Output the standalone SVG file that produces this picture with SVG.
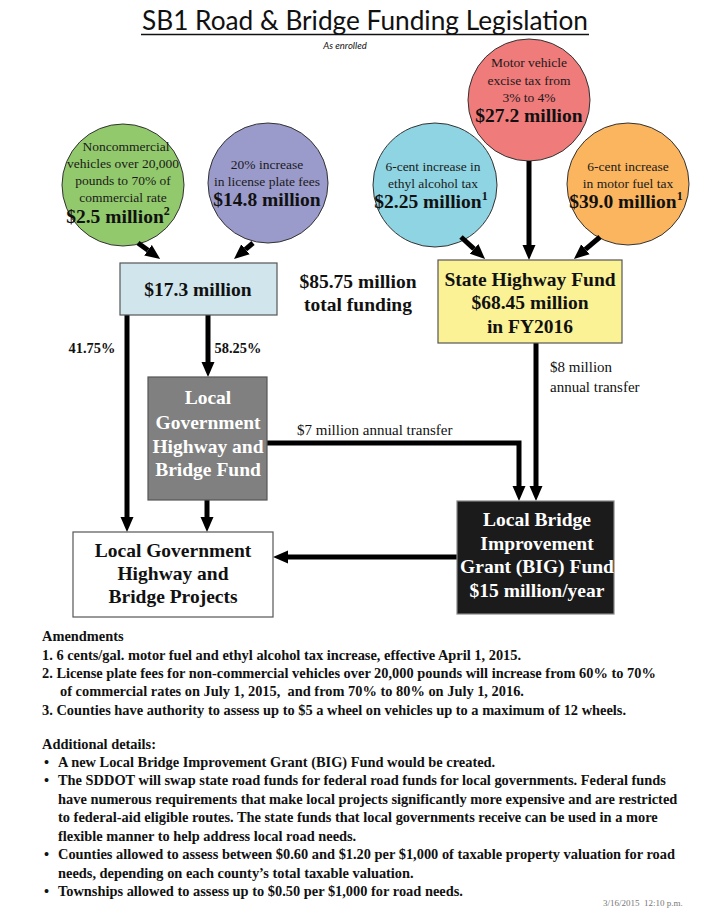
<svg xmlns="http://www.w3.org/2000/svg" width="725" height="914" viewBox="0 0 725 914">
<style>
.ct{font-family:"Liberation Serif","Times New Roman",serif;font-size:13.5px;fill:#1a1a1a;text-anchor:middle;}
.cb{font-family:"Liberation Serif","Times New Roman",serif;font-size:19.5px;font-weight:bold;fill:#111;text-anchor:middle;}
.bx{font-family:"Liberation Serif","Times New Roman",serif;font-size:19.5px;font-weight:bold;text-anchor:middle;}
.circ{stroke:#333;stroke-width:1;}
.ln{stroke:#000;stroke-width:5;fill:none;}
.note{font-family:"Liberation Serif","Times New Roman",serif;font-size:14.4px;font-weight:bold;fill:#111;}
.lbl{font-family:"Liberation Serif","Times New Roman",serif;font-size:15px;fill:#111;}
</style>
<defs>
<marker id="ah" viewBox="0 -7 15 14" refX="0" refY="0" markerWidth="15" markerHeight="14" markerUnits="userSpaceOnUse" orient="auto">
<path d="M0,-6.5 L15,0 L0,6.5 z" fill="#000"/>
</marker>
</defs>
<rect width="725" height="914" fill="#fff"/>

<g id="title">
<text x="365" y="30" font-family="Lato,'DejaVu Sans',sans-serif" font-size="27" text-anchor="middle" fill="#111" textLength="446" lengthAdjust="spacingAndGlyphs">SB1 Road &amp; Bridge Funding Legislation</text>
<line x1="141" y1="34.5" x2="589" y2="34.5" stroke="#111" stroke-width="1.5"/>
<text x="345" y="49" font-family="Lato,'DejaVu Sans',sans-serif" font-size="9.5" font-style="italic" text-anchor="middle" fill="#111">As enrolled</text>
</g>

<g id="c-green">
<circle class="circ" cx="123" cy="185" r="61" fill="#92c96c"/>
<text class="ct" x="126" y="151">Noncommercial</text>
<text class="ct" x="123" y="168">vehicles over 20,000</text>
<text class="ct" x="123" y="185">pounds to 70% of</text>
<text class="ct" x="123" y="202">commercial rate</text>
<text class="cb" x="118" y="223">$2.5 million<tspan font-size="12" dy="-8">2</tspan></text>
</g>

<g id="c-purple">
<circle class="circ" cx="268" cy="183" r="60" fill="#9a9bcb"/>
<text class="ct" x="267" y="169">20% increase</text>
<text class="ct" x="267" y="186">in license plate fees</text>
<text class="cb" x="267" y="206">$14.8 million</text>
</g>

<g id="c-red">
<circle class="circ" cx="529" cy="100" r="61" fill="#f07b7b"/>
<text class="ct" x="529" y="67">Motor vehicle</text>
<text class="ct" x="529" y="85">excise tax from</text>
<text class="ct" x="529" y="102">3% to 4%</text>
<text class="cb" x="529" y="122">$27.2 million</text>
</g>

<g id="c-cyan">
<circle class="circ" cx="435" cy="185" r="62" fill="#8fd4e2"/>
<text class="ct" x="433" y="171">6-cent increase in</text>
<text class="ct" x="433" y="188">ethyl alcohol tax</text>
<text class="cb" x="431" y="208">$2.25 million<tspan font-size="12" dy="-8">1</tspan></text>
</g>

<g id="c-orange">
<circle class="circ" cx="628" cy="184" r="61" fill="#fbb55e"/>
<text class="ct" x="628" y="171">6-cent increase</text>
<text class="ct" x="628" y="188">in motor fuel tax</text>
<text class="cb" x="626" y="208">$39.0 million<tspan font-size="12" dy="-8">1</tspan></text>
</g>

<g id="connectors">
<line class="ln" x1="138" y1="243" x2="148" y2="250.2" marker-end="url(#ah)"/>
<line class="ln" x1="253" y1="243" x2="245.5" y2="249.3" marker-end="url(#ah)"/>
<line class="ln" x1="461" y1="237" x2="474" y2="248.9" marker-end="url(#ah)"/>
<line class="ln" x1="529" y1="161" x2="529" y2="245" marker-end="url(#ah)"/>
<line class="ln" x1="600" y1="237" x2="585.4" y2="249.3" marker-end="url(#ah)"/>
<line class="ln" x1="127" y1="315" x2="127" y2="517" marker-end="url(#ah)"/>
<line class="ln" x1="208" y1="315" x2="208" y2="362" marker-end="url(#ah)"/>
<line class="ln" x1="207" y1="500" x2="207" y2="517" marker-end="url(#ah)"/>
<path class="ln" d="M267,443 H519 V486" marker-end="url(#ah)"/>
<line class="ln" x1="536" y1="343" x2="536" y2="486" marker-end="url(#ah)"/>
<line class="ln" x1="457" y1="557" x2="288" y2="557" marker-end="url(#ah)"/>
<text class="note" x="92" y="353" text-anchor="middle" font-size="13">41.75%</text>
<text class="note" x="238" y="353" text-anchor="middle" font-size="13">58.25%</text>
<text class="lbl" x="297" y="435">$7 million annual transfer</text>
<text class="lbl" x="550" y="372" font-size="14.5">$8 million</text>
<text class="lbl" x="550" y="392" font-size="14.5">annual transfer</text>
</g>

<g id="total">
<text class="bx" x="358" y="288" font-size="19" fill="#111">$85.75 million</text>
<text class="bx" x="358" y="311" font-size="19" fill="#111">total funding</text>
</g>

<g id="b-173">
<rect x="120" y="263" width="157" height="52" fill="#d0e5ec" stroke="#555" stroke-width="1.2"/>
<text class="bx" x="198" y="296" font-size="20.5" fill="#111">$17.3 million</text>
</g>

<g id="b-shf">
<rect x="438" y="260" width="184" height="83" fill="#fbf296" stroke="#555" stroke-width="1.2"/>
<text class="bx" x="530" y="286" fill="#111">State Highway Fund</text>
<text class="bx" x="530" y="309" fill="#111">$68.45 million</text>
<text class="bx" x="530" y="333" fill="#111">in FY2016</text>
</g>

<g id="b-lghbf">
<rect x="148" y="377" width="119" height="123" fill="#808080" stroke="#555" stroke-width="1.2"/>
<text class="bx" x="208" y="404" fill="#fff">Local</text>
<text class="bx" x="208" y="429" fill="#fff">Government</text>
<text class="bx" x="208" y="453" fill="#fff">Highway and</text>
<text class="bx" x="208" y="476" fill="#fff">Bridge Fund</text>
</g>

<g id="b-big">
<rect x="457" y="501" width="157" height="113" fill="#1b1b1b" stroke="#888" stroke-width="1.2"/>
<text class="bx" x="537" y="526" font-size="19" fill="#fff">Local Bridge</text>
<text class="bx" x="537" y="550" font-size="19" fill="#fff">Improvement</text>
<text class="bx" x="537" y="573" font-size="19" fill="#fff">Grant (BIG) Fund</text>
<text class="bx" x="537" y="597" font-size="19" fill="#fff">$15 million/year</text>
</g>

<g id="b-lgp">
<rect x="73" y="532" width="200" height="85" fill="#fff" stroke="#555" stroke-width="1.2"/>
<text class="bx" x="173" y="557" fill="#111">Local Government</text>
<text class="bx" x="173" y="580" fill="#111">Highway and</text>
<text class="bx" x="173" y="603" fill="#111">Bridge Projects</text>
</g>

<g id="amendments">
<text class="note" x="42" y="641">Amendments</text>
<text class="note" x="42" y="660">1.  6 cents/gal. motor fuel and ethyl alcohol tax increase, effective April 1, 2015.</text>
<text class="note" x="42" y="678">2.  License plate fees for non-commercial vehicles over 20,000 pounds will increase from 60% to 70%</text>
<text class="note" x="60" y="696" xml:space="preserve">of commercial rates on July 1, 2015,  and from 70% to 80% on July 1, 2016.</text>
<text class="note" x="42" y="715">3.  Counties have authority to assess up to $5 a wheel on vehicles up to a maximum of 12 wheels.</text>
</g>

<g id="details">
<text class="note" x="42" y="749">Additional details:</text>
<text class="note" x="44" y="767">•</text>
<text class="note" x="44" y="785">•</text>
<text class="note" x="44" y="859">•</text>
<text class="note" x="44" y="896">•</text>
<text class="note" x="58" y="767">A new Local Bridge Improvement Grant (BIG) Fund would be created.</text>
<text class="note" x="58" y="785">The SDDOT will swap state road funds for federal road funds for local governments. Federal funds</text>
<text class="note" x="58" y="804">have numerous requirements that make local projects significantly more expensive and are restricted</text>
<text class="note" x="58" y="822">to federal-aid eligible routes. The state funds that local governments receive can be used in a more</text>
<text class="note" x="58" y="841">flexible manner to help address local road needs.</text>
<text class="note" x="58" y="859">Counties allowed to assess between $0.60 and $1.20 per $1,000 of taxable property valuation for road</text>
<text class="note" x="58" y="878">needs, depending on each county’s total taxable valuation.</text>
<text class="note" x="58" y="896">Townships allowed to assess up to $0.50 per $1,000 for road needs.</text>
<text x="643" y="906" font-family="'Liberation Serif',serif" font-size="9" fill="#777" text-anchor="middle" xml:space="preserve">3/16/2015  12:10 p.m.</text>
</g>
</svg>
